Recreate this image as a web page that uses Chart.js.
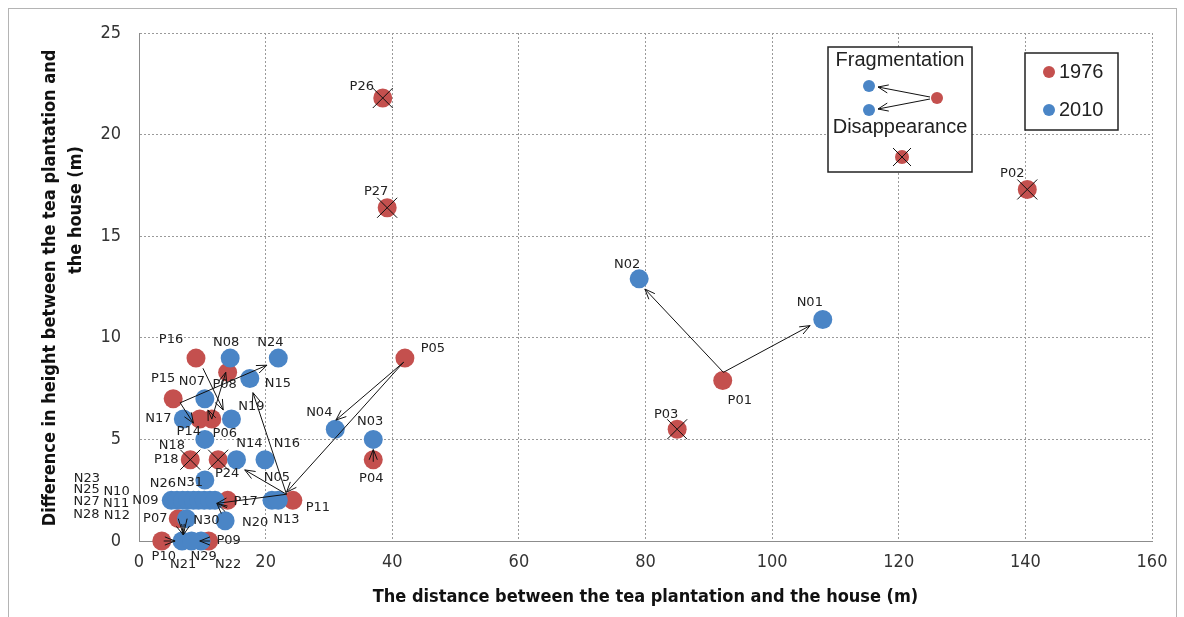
<!DOCTYPE html>
<html>
<head>
<meta charset="utf-8">
<script src="https://cdn.jsdelivr.net/npm/chart.js@4.4.1/dist/chart.umd.min.js"></script>
<style>
  html, body { margin: 0; padding: 0; background: #fff; }
  #wrap { position: relative; width: 1184px; height: 617px; overflow: hidden; }
  #frame { position: absolute; left: 8px; top: 8px; width: 1167px; height: 640px; border: 1px solid #b4b4b4; }
  #c { position: absolute; left: 0; top: 0; }
</style>
</head>
<body>
<div id="wrap">
  <div id="frame"></div>
  <canvas id="c" width="1184" height="617"></canvas>
</div>
<script>
// 1976 houses (red)
const names1976 = ["P01", "P02", "P03", "P04", "P05", "P06", "P07", "P08", "P09", "P10",
  "P11", "P14", "P15", "P16", "P17", "P18", "P24", "P26", "P27"];
const x1976 = [92.2, 140.3, 85, 37, 42, 11.5, 6.2, 14, 11, 3.6,
  24.3, 9.6, 5.4, 9, 14, 8.1, 12.5, 38.5, 39.2];
const y1976 = [7.9, 17.3, 5.5, 4, 9, 6, 1.1, 8.3, 0, 0,
  2, 6, 7, 9, 2, 4, 4, 21.8, 16.4];

// 2010 houses (blue)
const names2010 = ["N01", "N02", "N03", "N04", "N05", "N07", "N08", "N09", "N23", "N25",
  "N27", "N28", "N10", "N11", "N12", "N26", "N13", "N14", "N15", "N16",
  "N17", "N18", "N19", "N20", "N21", "N22", "N24", "N29", "N30", "N31"];
const x2010 = [108, 79, 37, 31, 21, 10.4, 14.4, 5.1, 6, 6.9,
  7.7, 8.6, 9.4, 10.3, 11.2, 12, 22, 15.4, 17.5, 19.9,
  7, 10.4, 14.6, 13.6, 6.8, 9.8, 22, 8.3, 7.5, 10.4];
const y2010 = [10.9, 12.9, 5, 5.5, 2, 7, 9, 2, 2, 2,
  2, 2, 2, 2, 2, 2, 2, 4, 8, 4,
  6, 5, 6, 1, 0, 0, 9, 0, 1.1, 3];

// houses that disappeared between the two surveys
const disappeared = ["P02", "P03", "P18", "P24", "P26", "P27"];

// movement arrows (from -> to, in data units)
const arrowFrom = [[92.3, 8.3], [92.3, 8.3], [41.8, 8.8], [41.8, 8.8], [37, 3.9],
  [23.3, 2.3], [23.3, 2.3], [23.3, 2.3], [6.5, 6.8], [6.5, 6.8],
  [10.1, 8.5], [11.5, 6], [11.5, 6], [6.2, 1.1], [7.6, 1.1],
  [3.9, 0], [11.2, 0], [13.6, 1.45]];
const arrowTo = [[79.9, 12.4], [106, 10.6], [31.1, 5.95], [23.3, 2.4], [37, 4.5],
  [18, 7.3], [16.7, 3.5], [12.3, 1.85], [20.2, 8.65], [8.6, 5.8],
  [13.3, 6.45], [13.7, 8.3], [10.9, 6.45], [7, 0.3], [7, 0.3],
  [5.7, 0], [9.6, 0], [12.3, 1.85]];

const xTicks = [0, 20, 40, 60, 80, 100, 120, 140, 160];
const yTicks = [0, 5, 10, 15, 20, 25];

const RED = "#c4504e";
const BLUE = "#4a85c6";

// where each name sits relative to its marker (pixels)
const labelOffset = {
  P01: [17, 20], P02: [-15, -16], P03: [-11, -15], P04: [-2, 19], P05: [28, -9],
  P06: [13, 15], P07: [-23, 0], P08: [-3, 12], P09: [20, 0], P10: [2, 16],
  P11: [25, 7], P14: [-11, 13], P15: [-10, -20], P16: [-25, -18], P17: [18, 1],
  P18: [-24, 0], P24: [9, 14], P26: [-21, -11], P27: [-11, -16],
  N01: [-13, -17], N02: [-12, -14], N03: [-3, -18], N04: [-16, -17], N05: [5, -23],
  N07: [-13, -17], N08: [-4, -15], N09: [-26, 0], N23: [-90, -22], N25: [-96, -11],
  N27: [-101, 1], N28: [-107, 14], N10: [-82, -9], N11: [-88, 3], N12: [-93, 15],
  N26: [-52, -17], N13: [8, 19], N14: [13, -16], N15: [28, 5], N16: [22, -16],
  N17: [-25, 0], N18: [-33, 6], N19: [20, -12], N20: [30, 2], N21: [1, 24],
  N22: [27, 24], N24: [-8, -15], N29: [12, 16], N30: [20, 2], N31: [-15, 3]
};

const NARROW = "'DejaVu Sans Condensed', 'Liberation Sans', sans-serif";
const SANS = "'Liberation Sans', Arial, sans-serif";

function arrow(ctx, x1, y1, x2, y2) {
  const a = Math.atan2(y2 - y1, x2 - x1);
  const len = 11, spread = 0.38;
  ctx.beginPath();
  ctx.moveTo(x1, y1);
  ctx.lineTo(x2, y2);
  ctx.moveTo(x2 - len * Math.cos(a - spread), y2 - len * Math.sin(a - spread));
  ctx.lineTo(x2, y2);
  ctx.lineTo(x2 - len * Math.cos(a + spread), y2 - len * Math.sin(a + spread));
  ctx.stroke();
}

function cross(ctx, x, y, r) {
  ctx.beginPath();
  ctx.moveTo(x - r, y - r); ctx.lineTo(x + r, y + r);
  ctx.moveTo(x + r, y - r); ctx.lineTo(x - r, y + r);
  ctx.stroke();
}

function dot(ctx, x, y, r, color) {
  ctx.fillStyle = color;
  ctx.beginPath();
  ctx.arc(x, y, r, 0, Math.PI * 2);
  ctx.fill();
}

const annotations = {
  id: "annotations",
  afterDatasetsDraw(chart) {
    const ctx = chart.ctx;
    const sx = chart.scales.x, sy = chart.scales.y;
    ctx.save();
    ctx.strokeStyle = "#111";
    ctx.lineWidth = 1;

    // crosses on disappeared houses
    names1976.forEach((n, i) => {
      if (disappeared.includes(n)) {
        cross(ctx, sx.getPixelForValue(x1976[i]), sy.getPixelForValue(y1976[i]), 10);
      }
    });

    // arrows
    arrowFrom.forEach((f, i) => {
      const t = arrowTo[i];
      arrow(ctx, sx.getPixelForValue(f[0]), sy.getPixelForValue(f[1]),
        sx.getPixelForValue(t[0]), sy.getPixelForValue(t[1]));
    });

    // point names
    ctx.font = "13px 'DejaVu Sans', sans-serif";
    ctx.fillStyle = "#222";
    ctx.textAlign = "center";
    ctx.textBaseline = "middle";
    const put = (names, xs, ys) => names.forEach((n, i) => {
      const off = labelOffset[n] || [0, -16];
      ctx.fillText(n, sx.getPixelForValue(xs[i]) + off[0], sy.getPixelForValue(ys[i]) + off[1]);
    });
    put(names1976, x1976, y1976);
    put(names2010, x2010, y2010);
    ctx.restore();
  },
  afterDraw(chart) {
    const ctx = chart.ctx;
    ctx.save();

    // y axis title (two lines, rotated)
    ctx.fillStyle = "#111";
    ctx.font = "bold 18px " + NARROW;
    ctx.textAlign = "center";
    ctx.textBaseline = "middle";
    ctx.save();
    ctx.translate(50, 288);
    ctx.rotate(-Math.PI / 2);
    ctx.fillText("Difference in height between the tea plantation and", 0, 0);
    ctx.restore();
    ctx.save();
    ctx.translate(76, 210);
    ctx.rotate(-Math.PI / 2);
    ctx.fillText("the house (m)", 0, 0);
    ctx.restore();

    // legend box: fragmentation / disappearance
    ctx.strokeStyle = "#222";
    ctx.lineWidth = 1.5;
    ctx.fillStyle = "#fff";
    ctx.fillRect(828, 47, 144, 125);
    ctx.strokeRect(828, 47, 144, 125);
    ctx.fillStyle = "#222";
    ctx.font = "20px " + SANS;
    ctx.fillText("Fragmentation", 900, 60);
    ctx.fillText("Disappearance", 900, 127);
    dot(ctx, 869, 86, 6, BLUE);
    dot(ctx, 869, 110, 6, BLUE);
    dot(ctx, 937, 98, 6, RED);
    ctx.strokeStyle = "#111";
    ctx.lineWidth = 1;
    arrow(ctx, 930, 97, 878, 87);
    arrow(ctx, 930, 99, 878, 109);
    dot(ctx, 902, 157, 7, RED);
    cross(ctx, 902, 157, 9);

    // legend box: years
    ctx.strokeStyle = "#222";
    ctx.lineWidth = 1.5;
    ctx.fillStyle = "#fff";
    ctx.fillRect(1025, 53, 93, 77);
    ctx.strokeRect(1025, 53, 93, 77);
    dot(ctx, 1049, 72, 6, RED);
    dot(ctx, 1049, 110, 6, BLUE);
    ctx.fillStyle = "#222";
    ctx.textAlign = "left";
    ctx.fillText("1976", 1059, 72);
    ctx.fillText("2010", 1059, 110);
    ctx.restore();
  }
};

new Chart(document.getElementById("c"), {
  type: "scatter",
  data: {
    datasets: [
      {
        label: "2010",
        data: x2010.map((x, i) => ({ x: x, y: y2010[i] })),
        backgroundColor: BLUE,
        borderWidth: 0,
        pointRadius: 9.5,
        clip: false
      },
      {
        label: "1976",
        data: x1976.map((x, i) => ({ x: x, y: y1976[i] })),
        backgroundColor: RED,
        borderWidth: 0,
        pointRadius: 9.5,
        clip: false
      }
    ]
  },
  options: {
    responsive: false,
    animation: false,
    layout: { padding: { top: 33, right: 32, left: 0, bottom: 0 } },
    plugins: {
      legend: { display: false },
      tooltip: { enabled: false }
    },
    scales: {
      x: {
        type: "linear",
        min: 0,
        max: 160,
        afterFit: (s) => { s.height = 76; },
        afterBuildTicks: (s) => { s.ticks = xTicks.map(v => ({ value: v })); },
        ticks: { padding: 11, color: "#333", font: { family: NARROW, size: 18 } },
        grid: { color: "#9a9a9a", drawTicks: false },
        border: { display: true, color: "#8c8c8c", width: 1, dash: [2, 2] },
        title: {
          display: true,
          text: "The distance between the tea plantation and the house (m)",
          color: "#111",
          font: { family: NARROW, size: 18, weight: "bold" },
          padding: { top: 0, bottom: 9 }
        }
      },
      y: {
        type: "linear",
        min: 0,
        max: 25,
        afterFit: (s) => { s.width = 139; },
        afterBuildTicks: (s) => { s.ticks = yTicks.map(v => ({ value: v })); },
        ticks: { padding: 18, color: "#333", font: { family: NARROW, size: 18 } },
        grid: { color: "#9a9a9a", drawTicks: false },
        border: { display: true, color: "#8c8c8c", width: 1, dash: [2, 2] }
      }
    }
  },
  plugins: [annotations]
});
</script>
</body>
</html>
